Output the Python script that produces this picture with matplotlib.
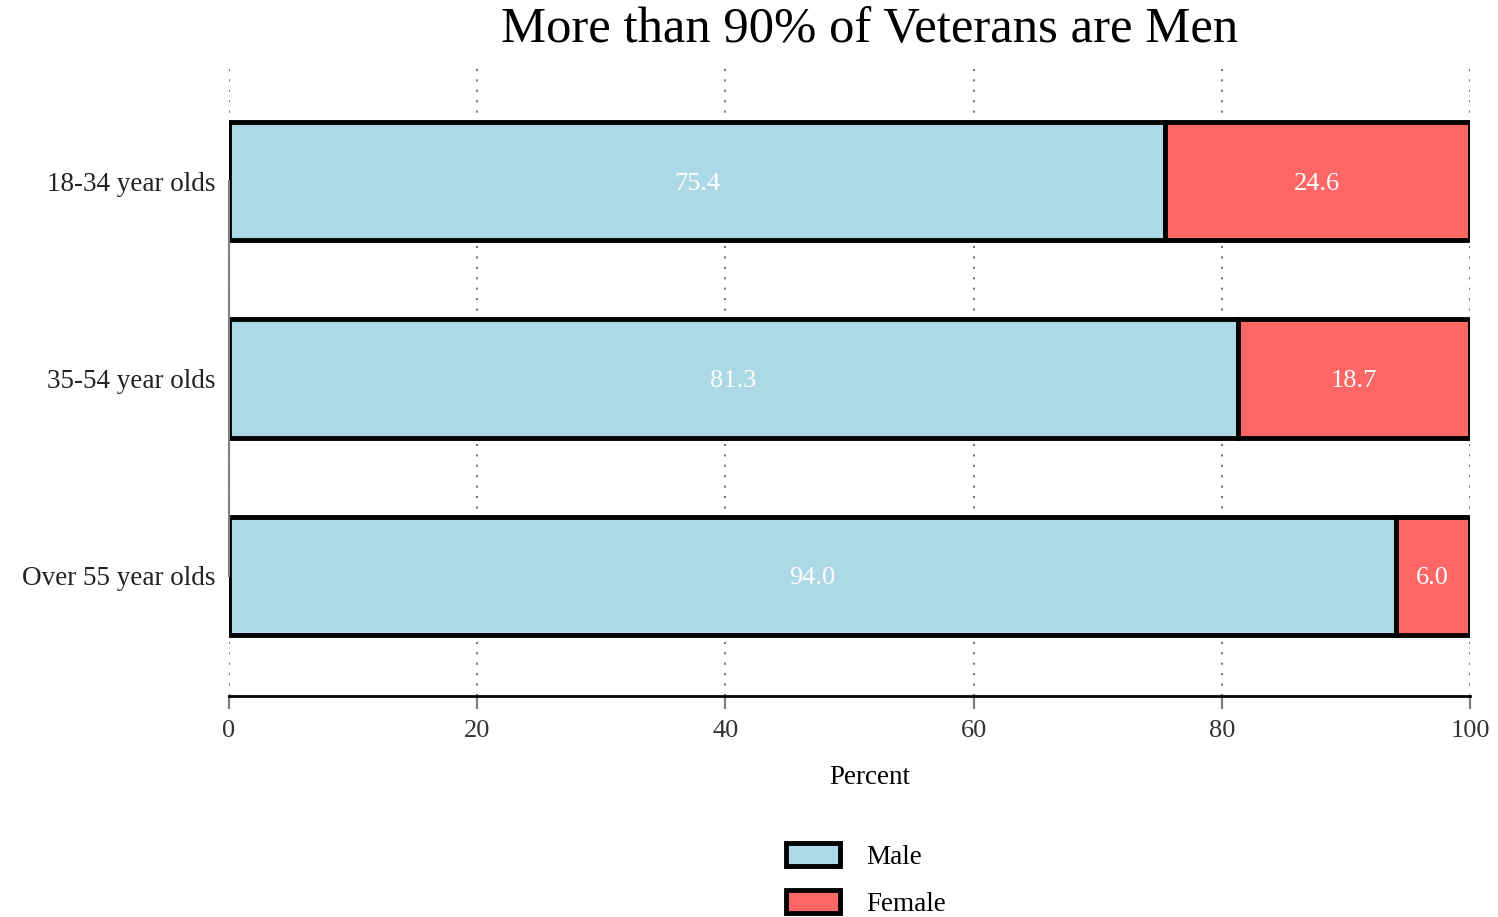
import matplotlib.pyplot as plt
import matplotlib as mpl
import numpy as np

mpl.rcParams['font.family'] = 'Liberation Serif'
mpl.rcParams['font.size'] = 19

# data
groups = ['18-34 year olds', '35-54 year olds', 'Over 55 year olds']
male = [75.4, 81.3, 94.0]
female = [24.6, 18.7, 6.0]
xticks = [0, 20, 40, 60, 80, 100]

c_male = '#ADD8E6'
c_female = '#FF6666'

fig = plt.figure(figsize=(14.98, 9.17), dpi=100)
ax = fig.add_axes([229/1498, 1 - 696/917, (1470 - 229)/1498, (696 - 63)/917])

y = np.arange(len(groups))
b1 = ax.barh(y, male, height=0.6, color=c_male, edgecolor='black', linewidth=3.5, label='Male')
b2 = ax.barh(y, female, left=male, height=0.6, color=c_female, edgecolor='black', linewidth=3.5, label='Female')

# value labels inside the bars
for yi, m, f in zip(y, male, female):
    ax.text(m/2, yi, '%.1f' % m, color='white', ha='center', va='center_baseline', fontsize=19)
    ax.text(m + f/2, yi, '%.1f' % f, color='white', ha='center', va='center_baseline', fontsize=19)

ax.set_xlim(0, 100)
ax.set_ylim(2.61, -0.6)
ax.set_yticks(y)
ax.set_yticklabels(groups, fontsize=19.5, color='#222222')
ax.set_xticks(xticks)
ax.set_xticklabels([str(t) for t in xticks], fontsize=19, color='#333333')

ax.tick_params(axis='y', length=0, pad=10)
ax.tick_params(axis='x', length=9, width=1.6, color='#808080', pad=8)

ax.grid(axis='x', linestyle=(0, (1, 4)), color='#777777', linewidth=1.5)
ax.set_axisbelow(True)

for s in ['top', 'right']:
    ax.spines[s].set_visible(False)
ax.spines['left'].set_bounds(0, 2)
ax.spines['left'].set_color('#808080')
ax.spines['left'].set_linewidth(1.5)
ax.spines['bottom'].set_bounds(0, 100)
ax.spines['bottom'].set_linewidth(2)

fig.text(870/1498, 1 - 778/917, 'Percent', ha='center', va='center', fontsize=19.5)
fig.text(870/1498, 1 - 30/917, 'More than 90% of Veterans are Men', ha='center', va='center', fontsize=36.5)

fig.legend(handles=[b1, b2], loc='center', bbox_to_anchor=(866/1498, 1 - 880/917),
           frameon=False, fontsize=19.5, handlelength=2.0, handleheight=0.9,
           labelspacing=0.75, handletextpad=1.0)

fig.savefig('out.png', dpi=100)
